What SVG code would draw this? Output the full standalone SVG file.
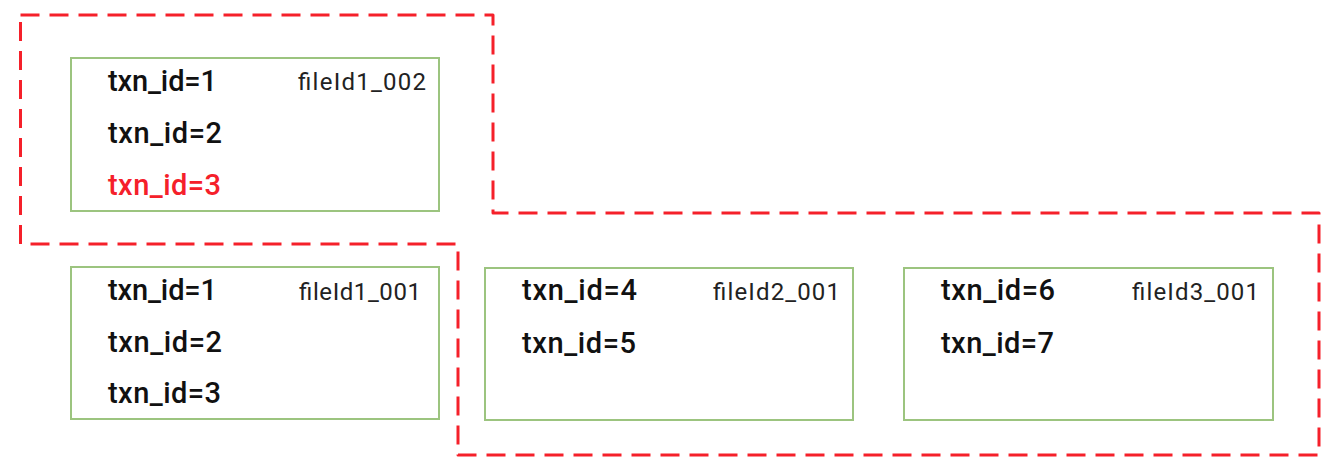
<svg xmlns="http://www.w3.org/2000/svg" width="1342" height="472" viewBox="0 0 1342 472">
<style>
.box{fill:#fff;stroke:#9cc47f;stroke-width:2}
.t{font-family:Roboto,"Liberation Sans",sans-serif;font-weight:500;font-size:29px;fill:#111}
.r{fill:#f5202a}
.f{font-family:Roboto,"Liberation Sans",sans-serif;font-weight:400;font-size:24px;fill:#222}
.grp{fill:none;stroke:#f5202a;stroke-width:3;stroke-dasharray:19 10;stroke-linejoin:round}
</style>
<rect width="1342" height="472" fill="#fff"/>
<g id="connectors">
<path class="grp" d="M20.5,15 H493 V213 H1319 V455 H458 V244 H20.5 Z"/>
</g>
<g id="file1_002">
<rect class="box" x="71" y="58" width="368" height="153"/>
<text class="t" x="108" y="91" textLength="109">txn_id=1</text>
<text class="t" x="108" y="143" textLength="114">txn_id=2</text>
<text class="t r" x="108" y="195" textLength="113">txn_id=3</text>
<text class="f" x="298" y="90" textLength="128">fileId1_002</text>
</g>
<g id="file1_001">
<rect class="box" x="71" y="267" width="368" height="152"/>
<text class="t" x="108" y="300" textLength="109">txn_id=1</text>
<text class="t" x="108" y="352" textLength="114">txn_id=2</text>
<text class="t" x="108" y="403" textLength="113">txn_id=3</text>
<text class="f" x="299" y="300" textLength="122">fileId1_001</text>
</g>
<g id="file2_001">
<rect class="box" x="485" y="268" width="368" height="152"/>
<text class="t" x="522" y="300" textLength="115">txn_id=4</text>
<text class="t" x="522" y="353" textLength="114">txn_id=5</text>
<text class="f" x="713" y="300" textLength="127">fileId2_001</text>
</g>
<g id="file3_001">
<rect class="box" x="904" y="268" width="369" height="152"/>
<text class="t" x="941" y="300" textLength="114">txn_id=6</text>
<text class="t" x="941" y="353" textLength="113">txn_id=7</text>
<text class="f" x="1132" y="300" textLength="127">fileId3_001</text>
</g>
</svg>
